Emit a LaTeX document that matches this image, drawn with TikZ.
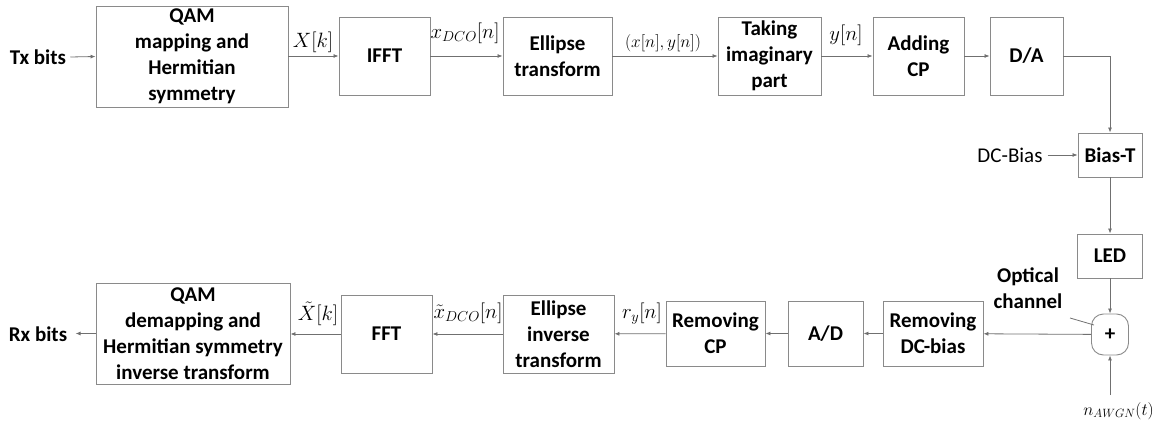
\documentclass[tikz,border=0pt]{standalone}
\usepackage{fontspec}
\setmainfont{Carlito}
\usetikzlibrary{arrows.meta}
\definecolor{boxgray}{HTML}{8A8A8A}
\definecolor{linegray}{HTML}{707070}
\begin{document}
\begin{tikzpicture}[x=1pt,y=-1pt,
  blk/.style={draw=boxgray, line width=0.9pt, font=\bfseries\fontsize{21}{26}\selectfont, align=center, inner sep=0pt},
  arr/.style={draw=linegray, line width=0.8pt, -{Latex[length=5pt,width=4pt]}},
  lbl/.style={font=\fontsize{20}{22}\selectfont, inner sep=0pt},
  side/.style={font=\bfseries\fontsize{21}{26}\selectfont, inner sep=0pt, align=center}]
\useasboundingbox (0,0) rectangle (1157,428);
% top row
\node[side] (tx) at (38,57) {Tx bits};
\node[blk, minimum width=192, minimum height=101] (qam) at (192,56.5) {QAM\\mapping and\\Hermitian\\symmetry};
\node[blk, minimum width=91, minimum height=78] (ifft) at (384.5,56) {IFFT};
\node[blk, minimum width=109, minimum height=78] (ell) at (557.5,56) {Ellipse\\transform};
\node[blk, minimum width=103, minimum height=78] (tak) at (769.5,56) {Taking\\imaginary\\part};
\node[blk, minimum width=91, minimum height=78] (add) at (918.5,56) {Adding\\CP};
\node[blk, minimum width=73, minimum height=78] (da) at (1026.5,56) {D/A};
\node[blk, minimum width=64, minimum height=44] (biast) at (1110,155) {Bias-T};
\node[font=\fontsize{21}{24}\selectfont, inner sep=0pt] (dcb) at (1010,155) {DC-Bias};
\node[blk, minimum width=65, minimum height=44] (led) at (1110,256) {LED};
\node[blk, rounded corners=12pt, minimum width=37, minimum height=41] (adder) at (1110,334.5) {+};
\node[side] (opt) at (1028,288) {Optical\\channel};
\coordinate (oc) at (1070,318);
\coordinate (ocend) at (1094,325);
\coordinate (awgn) at (1110,395);
\node[lbl, font=\fontsize{18}{20}\selectfont, anchor=east] (nawgn) at (1154,411) {$n_{AWGN}(t)$};
% bottom row
\node[blk, minimum width=100, minimum height=65] (rdc) at (933,333.5) {Removing\\DC-bias};
\node[blk, minimum width=75, minimum height=65] (ad) at (825.5,333.5) {A/D};
\node[blk, minimum width=99, minimum height=65] (rcp) at (715.5,333.5) {Removing\\CP};
\node[blk, minimum width=111, minimum height=78] (einv) at (558.5,334) {Ellipse\\inverse\\transform};
\node[blk, minimum width=91, minimum height=78] (fft) at (386.5,334) {FFT};
\node[blk, minimum width=194, minimum height=101] (qamd) at (193,333.5) {QAM\\demapping and\\Hermitian symmetry\\inverse transform};
\node[side] (rx) at (38,334) {Rx bits};
% labels
\node[lbl] at (313,42) {$X[k]$};
\node[lbl] at (465,33) {$x_{DCO}[n]$};
\node[lbl, font=\fontsize{17}{20}\selectfont] at (663,43) {$\bigl(x[n],y[n]\bigr)$};
\node[lbl] at (846,35) {$y[n]$};
\node[lbl] at (318,314) {$\tilde{X}[k]$};
\node[lbl] at (468,313) {$\tilde{x}_{DCO}[n]$};
\node[lbl] at (642,314) {$r_y[n]$};
% connectors
\draw[arr] (tx.east) ++(4,0) -- (qam.west);
\draw[arr] (qam.east |- ifft.west) -- (ifft.west);
\draw[arr] (ifft) -- (ell);
\draw[arr] (ell) -- (tak);
\draw[arr] (tak) -- (add);
\draw[arr] (add) -- (da);
\draw[arr] (da.east) -| (biast.north);
\draw[arr] (dcb.east) ++(5,0) -- (biast.west);
\draw[arr] (biast) -- (led);
\draw[arr] (led) -- (adder);
\draw[draw=linegray, line width=0.8pt] (oc) -- (ocend);
\draw[arr] (awgn) -- (adder.south);
\draw[arr] (adder) -- (rdc);
\draw[arr] (rdc) -- (ad);
\draw[arr] (ad) -- (rcp);
\draw[arr] (rcp) -- (einv);
\draw[arr] (einv) -- (fft);
\draw[arr] (fft.west) -- (qamd.east |- fft.west);
\draw[arr] (qamd.west) -- ++(-20,0);
\end{tikzpicture}
\end{document}
